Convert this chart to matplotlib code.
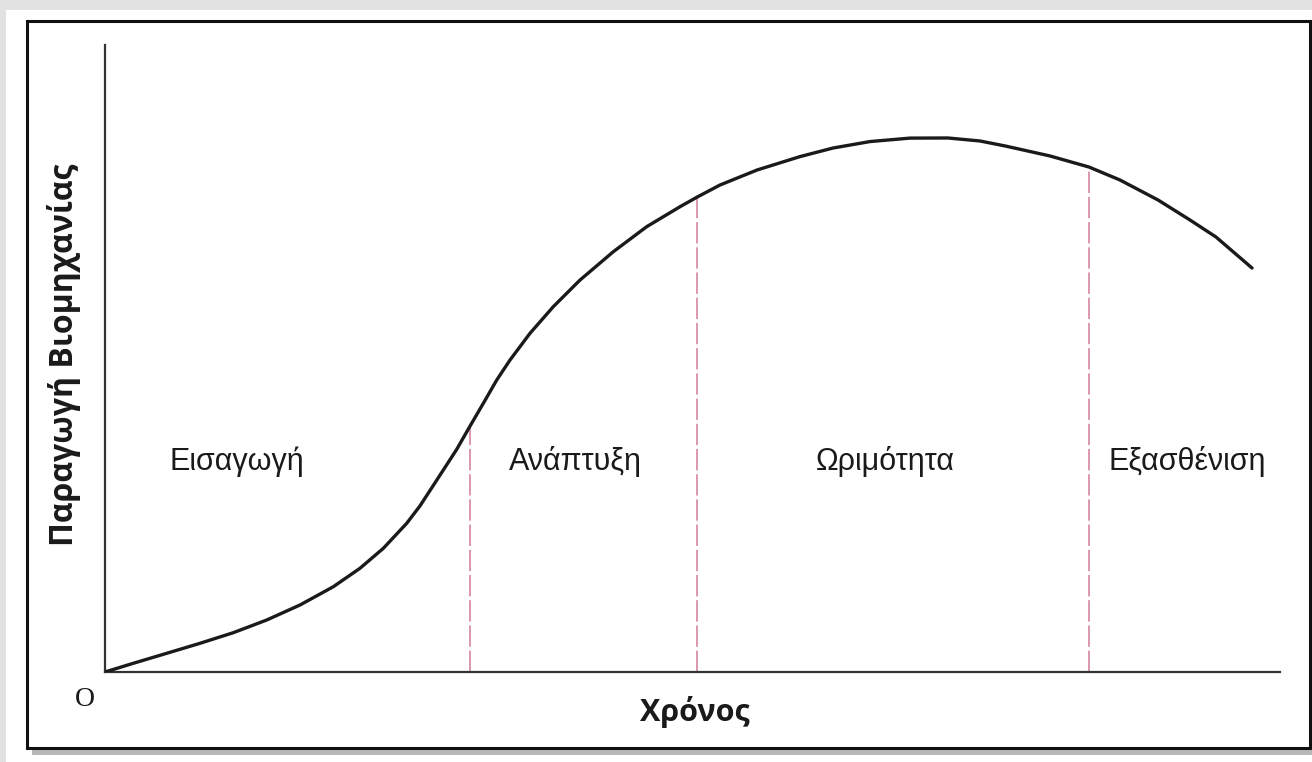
import matplotlib
matplotlib.use('Agg')
import matplotlib.pyplot as plt
from matplotlib.patches import Rectangle

# Καμπυλη κυκλου ζωης βιομηχανιας (μοναδες 0-100 στους αξονες)
xronos = [0, 2.41, 5.25, 8.09, 10.92, 13.76, 16.60, 19.43, 21.70, 23.69,
          25.68, 26.81, 28.51, 29.93, 31.06, 32.20, 33.34, 34.47, 36.17,
          38.15, 40.43, 43.26, 46.10, 48.94, 50.36, 52.34, 55.49, 59.15,
          61.96, 65.11, 68.51, 71.74, 74.47, 76.60, 80.43, 83.74, 86.38,
          89.62, 92.34, 94.55, 97.62]
paragogi = [0, 1.39, 2.98, 4.58, 6.27, 8.29, 10.69, 13.60, 16.54, 19.73,
            23.72, 26.5, 31.4, 35.5, 39.2, 42.86, 46.57, 49.76, 54.02,
            58.26, 62.52, 67.03, 71.02, 74.21, 75.71, 77.67, 80.06, 82.2,
            83.57, 84.6, 85.15, 85.17, 84.69, 83.9, 82.3, 80.54, 78.47,
            75.28, 72.09, 69.38, 64.43]

# Ορια σταδιων και υψος καμπυλης σε αυτα
oria = [31.06, 50.36, 83.74]
oria_ypsos = [39.2, 75.71, 80.54]

# Ονοματα σταδιων και θεση τους
stadia = ['Εισαγωγή', 'Ανάπτυξη', 'Ωριμότητα', 'Εξασθένιση']
stadia_x = [11.2, 40.0, 66.4, 92.1]
stadia_y = 33.5

W, H = 1312, 762
fig = plt.figure(figsize=(W / 100, H / 100), dpi=100, facecolor='#e2e2e2')

# λευκο φοντο, σκια και πλαισιο
fig.patches.append(Rectangle((6 / W, 0), 1, (H - 10) / H, transform=fig.transFigure,
                             facecolor='white', edgecolor='none', zorder=-3))
fig.patches.append(Rectangle((32 / W, (H - 755) / H), (1312 - 30) / W, (755 - 26) / H,
                             transform=fig.transFigure, facecolor='#8a8a8a',
                             edgecolor='none', alpha=0.6, zorder=-2))
fig.patches.append(Rectangle((27 / W, (H - 748) / H), (1310 - 27) / W, (748 - 21) / H,
                             transform=fig.transFigure, facecolor='white',
                             edgecolor='#111111', linewidth=2.2, zorder=-1))

ax = fig.add_axes([105 / W, (H - 672) / H, 1175 / W, 627 / H])
ax.set_zorder(1)
ax.set_facecolor('none')
ax.set_xlim(0, 100)
ax.set_ylim(0, 100)
for s in ['top', 'right']:
    ax.spines[s].set_visible(False)
for s in ['left', 'bottom']:
    ax.spines[s].set_color('#333333')
    ax.spines[s].set_linewidth(1.6)
ax.set_xticks([])
ax.set_yticks([])

# καμπυλη
ax.plot(xronos, paragogi, color='#1a1a1a', linewidth=2.4,
        solid_joinstyle='round', solid_capstyle='round', zorder=3)

# διακεκομμενες γραμμες
for xb, yb in zip(oria, oria_ypsos):
    ax.plot([xb, xb], [0, yb], color='#d27a9c', linewidth=1.1,
            dashes=(14, 2.5), zorder=2)

for lab, xl in zip(stadia, stadia_x):
    ax.text(xl, stadia_y, lab, ha='center', va='center', fontsize=22,
            family=['Liberation Sans', 'DejaVu Sans'], color='#1a1a1a')

fig.text(695 / W, 1 - 712 / H, 'Χρόνος', ha='center', va='center',
         fontsize=22, fontweight='bold', family=['Open Sans', 'DejaVu Sans'],
         color='#1a1a1a', zorder=2)
fig.text(64 / W, 1 - 355 / H, 'Παραγωγή Βιομηχανίας', ha='center', va='center',
         rotation=90, fontsize=23, fontweight='bold',
         family=['Open Sans', 'DejaVu Sans'], color='#1a1a1a', zorder=2)
fig.text(85 / W, 1 - 700 / H, 'O', ha='center', va='center', fontsize=20,
         family=['Liberation Serif', 'DejaVu Serif'], color='#1a1a1a', zorder=2)

plt.savefig('out.png', dpi=100, facecolor=fig.get_facecolor())
